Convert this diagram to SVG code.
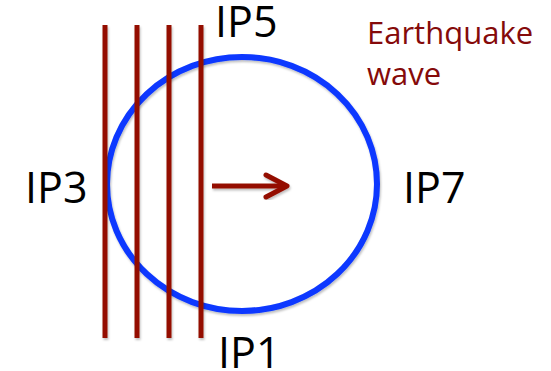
<svg xmlns="http://www.w3.org/2000/svg" width="551" height="371" viewBox="0 0 551 371">
<style>
.lbl{font-family:"Open Sans","Liberation Sans",sans-serif;font-size:43px;fill:#000}
.wave{font-family:"Open Sans","Liberation Sans",sans-serif;font-size:31px;fill:#850A0A}
.front{stroke:#941100;stroke-width:5;fill:none}
</style>
<defs>
<filter id="sh" x="-10%" y="-10%" width="120%" height="120%">
<feDropShadow dx="1" dy="2" stdDeviation="1.2" flood-color="#000" flood-opacity="0.25"/>
</filter>
</defs>
<rect width="551" height="371" fill="#fff"/>
<g id="circle" filter="url(#sh)">
<ellipse cx="242" cy="184" rx="135" ry="127" fill="none" stroke="#0A37FF" stroke-width="6"/>
</g>
<g id="wavefronts" filter="url(#sh)">
<line class="front" x1="105" y1="25" x2="105" y2="338"/>
<line class="front" x1="137" y1="25" x2="137" y2="338"/>
<line class="front" x1="169" y1="25" x2="169" y2="338"/>
<line class="front" x1="201" y1="25" x2="201" y2="338"/>
</g>
<g id="connectors" filter="url(#sh)">
<line x1="212" y1="186" x2="286" y2="186" stroke="#941100" stroke-width="5"/>
<polyline points="266,175 287,186 266,197" fill="none" stroke="#941100" stroke-width="5" stroke-linecap="round" stroke-linejoin="round"/>
</g>
<g id="IP5"><text class="lbl" x="215" y="37">IP5</text></g>
<g id="IP3"><text class="lbl" x="25" y="203">IP3</text></g>
<g id="IP7"><text class="lbl" x="403" y="203">IP7</text></g>
<g id="IP1"><text class="lbl" x="218" y="368">IP1</text></g>
<g id="label"><text class="wave" x="367" y="44">Earthquake</text><text class="wave" x="367" y="85">wave</text></g>
</svg>
